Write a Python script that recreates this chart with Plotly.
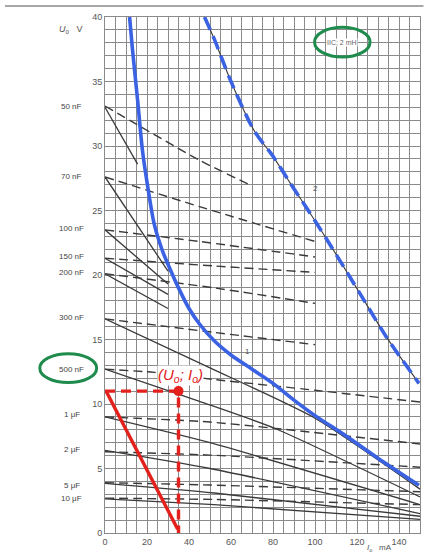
import plotly.graph_objects as go

# ---- data ----
cap_labels = ["50 nF", "70 nF", "100 nF", "150 nF", "200 nF", "300 nF", "500 nF", "1 μF", "2 μF", "5 μF", "10 μF"]
cap_label_u = [33.1, 27.6, 23.6, 21.4, 20.2, 16.7, 12.7, 9.2, 6.5, 3.7, 2.7]

solid_x = [
    [0, 15.5],
    [0, 30],
    [0, 30],
    [0, 30],
    [0, 30],
    [0, 50, 100, 150],
    [0, 45, 81, 150],
    [0, 50, 150],
    [0, 50, 150],
    [0, 52, 150],
    [0, 52, 150],
]
solid_y = [
    [33.0, 28.6],
    [27.6, 20.3],
    [23.5, 19.3],
    [21.3, 18.5],
    [20.1, 17.4],
    [16.6, 12.8, 8.9, 3.4],
    [12.7, 10.2, 8.1, 2.8],
    [9.0, 7.0, 2.2],
    [6.4, 5.0, 1.5],
    [3.85, 3.1, 1.3],
    [2.65, 2.2, 1.05],
]
dashed_x = [
    [0, 45, 70],
    [0, 45, 100],
    [0, 45, 100],
    [0, 52, 100],
    [0, 52, 100],
    [0, 52, 100],
    [0, 23.5, 52, 101, 150],
    [0, 50, 150],
    [0, 50, 150],
    [0, 50, 150],
    [0, 52, 150],
]
dashed_y = [
    [33.1, 28.9, 26.9],
    [27.6, 25.3, 22.6],
    [23.5, 22.6, 21.4],
    [21.3, 20.7, 20.2],
    [20.1, 19.0, 17.8],
    [16.6, 15.55, 14.6],
    [12.7, 12.45, 11.9, 11.05, 10.15],
    [9.0, 8.6, 6.9],
    [6.3, 6.04, 5.1],
    [3.9, 3.72, 3.2],
    [2.7, 2.6, 2.2],
]

curve1_x = [11.7, 13.1, 15.5, 17.8, 20.2, 23.5, 27.3, 30.6, 35, 40, 45, 52, 60, 70, 80, 90, 100, 115, 130, 149.5]
curve1_y = [40, 37.45, 33.6, 29.7, 27.0, 23.9, 21.9, 20.6, 19.0, 17.4, 16.2, 14.9, 13.8, 12.7, 11.6, 10.3, 9.1, 7.5, 5.8, 3.7]

curve2_x = [47.4, 52, 60, 71, 80, 88.3, 100, 110.4, 122, 134, 149.5]
curve2_y = [40, 38.3, 35.0, 31.2, 29.2, 27.1, 24.2, 21.5, 18.4, 15.2, 11.6]

Uo = 11.0
Io = 35.0
red_x = [0.5, 34.6]
red_y = [11.0, 0.3]

x_tickvals = [0, 20, 40, 60, 80, 100, 120, 140]
y_tickvals = [0, 5, 10, 15, 20, 25, 30, 35, 40]

# ---- geometry (window pixels) ----
W, H = 430, 555
WL, WR, WT, WB = 105.4, 421.5, 17.0, 535.0
L, T = WL, WT
R, B = W - WR, H - WB


def px(p):
    return (p - WL) / (WR - WL)


def py(p):
    return (WB - p) / (WB - WT)


fig = go.Figure()

DARK = "#3a3a3a"
for xs, ys in zip(solid_x, solid_y):
    fig.add_trace(go.Scatter(x=xs, y=ys, mode="lines", line=dict(color=DARK, width=1.3, shape="spline", smoothing=0.6),
                             hoverinfo="skip", showlegend=False))
for xs, ys in zip(dashed_x, dashed_y):
    fig.add_trace(go.Scatter(x=xs, y=ys, mode="lines", line=dict(color=DARK, width=1.4, dash="9px,5px", shape="spline", smoothing=0.6),
                             hoverinfo="skip", showlegend=False))

BLUE = "#3a62e2"
fig.add_trace(go.Scatter(x=curve1_x, y=curve1_y, mode="lines", line=dict(color=BLUE, width=3.6, shape="spline", smoothing=0.8),
                         hoverinfo="skip", showlegend=False))
fig.add_trace(go.Scatter(x=curve2_x, y=curve2_y, mode="lines", line=dict(color=DARK, width=1.1, shape="spline", smoothing=0.8),
                         hoverinfo="skip", showlegend=False))
fig.add_trace(go.Scatter(x=curve2_x, y=curve2_y, mode="lines", line=dict(color=BLUE, width=3.6, dash="14px,7px", shape="spline", smoothing=0.8),
                         hoverinfo="skip", showlegend=False))

RED = "#e3201b"
fig.add_trace(go.Scatter(x=red_x, y=red_y, mode="lines", line=dict(color=RED, width=3.4),
                         hoverinfo="skip", showlegend=False))
fig.add_trace(go.Scatter(x=[0, Io, Io], y=[Uo, Uo, 0], mode="lines", line=dict(color=RED, width=3.4, dash="10px,6px"),
                         hoverinfo="skip", showlegend=False))
fig.add_trace(go.Scatter(x=[Io], y=[Uo], mode="markers", marker=dict(color=RED, size=10),
                         hoverinfo="skip", showlegend=False))

annotations = []
for lab, u in zip(cap_labels, cap_label_u):
    annotations.append(dict(x=px(72), y=u / 40, xref="paper", yref="paper", text=lab, showarrow=False,
                            xanchor="center", yanchor="middle", font=dict(size=8, color="#444")))
annotations += [
    dict(x=px(71), y=py(30), xref="paper", yref="paper", text="<i>U</i><sub>o</sub>   V", showarrow=False,
         xanchor="center", yanchor="middle", font=dict(size=9, color="#555")),
    dict(x=px(381), y=py(550), xref="paper", yref="paper", text="<i>I</i><sub>o</sub>   mA", showarrow=False,
         xanchor="center", yanchor="middle", font=dict(size=8, color="#555")),
    dict(x=67.7, y=14.1, text="1", showarrow=False, xanchor="center", font=dict(size=8, color="#555")),
    dict(x=100, y=26.7, text="2", showarrow=False, xanchor="center", font=dict(size=8, color="#555")),
    dict(x=112.8, y=38.05, text="IIC; 2 mH", showarrow=False, xanchor="center", bgcolor="white", borderpad=0,
         font=dict(size=7, color="#666")),
    dict(x=px(181), y=py(377), xref="paper", yref="paper", text="<i>(U<sub>o</sub>; I<sub>o</sub>)</i>",
         showarrow=False, xanchor="center", yanchor="middle", bgcolor="white", borderpad=0,
         font=dict(size=15, color=RED)),
]

GREEN = "#1f8b4d"
shapes = [
    dict(type="circle", xref="x", yref="y", x0=99.8, x1=126.2, y0=36.9, y1=39.2, line=dict(color=GREEN, width=3)),
    dict(type="circle", xref="paper", yref="paper", x0=px(40), x1=px(97), y0=py(384), y1=py(355),
         line=dict(color=GREEN, width=3)),
    dict(type="line", xref="paper", yref="paper", x0=px(5), x1=px(425), y0=py(6), y1=py(6),
         line=dict(color="#8a8a8a", width=1.5)),
]

GRID = "#8a8a8a"
fig.update_layout(
    width=W, height=H,
    margin=dict(l=L, r=R, t=T, b=B),
    paper_bgcolor="white", plot_bgcolor="white",
    font=dict(family="Liberation Sans, Arial, sans-serif", color="#555"),
    showlegend=False,
    annotations=annotations,
    shapes=shapes,
    xaxis=dict(range=[0, 150], tickvals=x_tickvals, showgrid=True, gridcolor=GRID,
               gridwidth=1, zeroline=False, showline=True, linecolor=GRID, mirror=True, ticks="",
               tickfont=dict(size=9, color="#555"), minor=dict(dtick=5, showgrid=True, gridcolor=GRID, gridwidth=1)),
    yaxis=dict(range=[0, 40], tickvals=y_tickvals, showgrid=True, gridcolor=GRID,
               gridwidth=1, zeroline=False, showline=True, linecolor=GRID, mirror=True, ticks="",
               tickfont=dict(size=9, color="#555"), minor=dict(dtick=1, showgrid=True, gridcolor=GRID, gridwidth=1)),
)

fig.write_html("out.html", config={"displayModeBar": False},
               post_script="document.body.style.margin='0px';")
